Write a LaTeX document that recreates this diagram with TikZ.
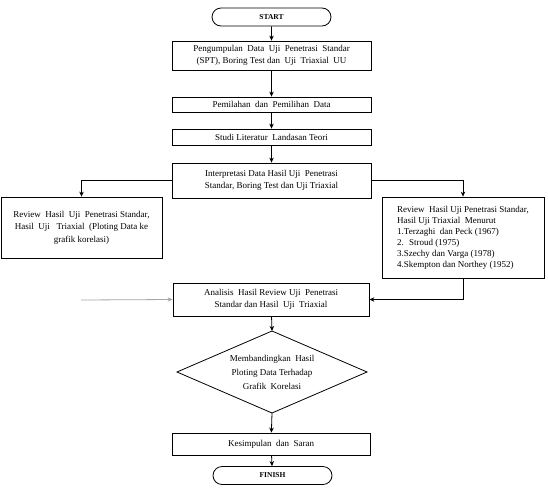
\documentclass[tikz,border=0pt]{standalone}
\usepackage{fontspec}
\setmainfont{Liberation Serif}
\usepackage{tikz}
\usetikzlibrary{calc,positioning,shapes.misc,shapes.geometric,arrows.meta}

\begin{document}
\begin{tikzpicture}[>={Stealth[length=5pt,width=4.5pt]},x=1pt,y=-1pt,
        proses/.style={draw,line width=0.8pt,minimum width=199pt,align=center,
            inner sep=2pt,font=\fontsize{9}{12.5}\selectfont},
        terminal/.style={draw,line width=0.8pt,rounded rectangle,minimum width=121pt,
            minimum height=18pt,inner sep=1pt,font=\fontsize{7.5}{9}\selectfont\bfseries},
        keputusan/.style={minimum width=190pt,minimum height=82pt,inner sep=0pt,
            outer sep=0pt,align=center,font=\fontsize{9}{14}\selectfont},
        panah/.style={->,line width=0.8pt}]
                \useasboundingbox (0,0) rectangle (548,493);
                \node [terminal] (start) at (271.5,17) {START};
                \node [proses,minimum height=29pt] (kumpul) at (271.5,55.5)
                    {Pengumpulan \ Data \ Uji \ Penetrasi \ Standar\\(SPT), Boring Test dan \ Uji \ Triaxial \ UU};
                \node [proses,minimum height=15pt] (pilah) at (271.5,104.5) {Pemilahan \ dan \ Pemilihan \ Data};
                \node [proses,minimum height=16pt] (studi) at (271.5,137) {Studi Literatur \ Landasan Teori};
                \node [proses,minimum height=35pt] (interp) at (271.5,180.5)
                    {Interpretasi Data Hasil Uji \ Penetrasi\\Standar, Boring Test dan Uji Triaxial};
                \node [proses,minimum width=161pt,minimum height=61pt] (revkiri) at (81.5,227.5)
                    {Review \ Hasil \ Uji \ Penetrasi Standar,\\Hasil \ Uji \ \ Triaxial \ (Ploting Data ke\\grafik korelasi)};
                \node [proses,minimum width=162pt,minimum height=81pt,align=left,
                    font=\fontsize{9}{11}\selectfont] (revkanan) at (463,237.5)
                    {Review \ Hasil Uji Penetrasi Standar,\\Hasil Uji Triaxial \ Menurut\\
                     1.Terzaghi \ dan Peck (1967)\\2. \ Stroud (1975)\\3.Szechy dan Varga (1978)\\
                     4.Skempton dan Northey (1952)};
                \node [proses,minimum width=196pt,minimum height=33pt] (analisis) at (271,299.5)
                    {Analisis \ Hasil Review Uji \ Penetrasi\\Standar dan Hasil \ Uji \ Triaxial};
                \node [keputusan] (banding) at (272,372)
                    {Membandingkan \ Hasil\\Ploting Data Terhadap\\Grafik \ Korelasi};
                \draw [line width=0.8pt] (banding.north) -- (banding.east) -- (banding.south)
                    -- (banding.west) -- cycle;
                \node [proses,minimum width=198pt,minimum height=22pt] (simpul) at (271,444)
                    {Kesimpulan \ dan \ Saran};
                \node [terminal] (finish) at (272.5,475.5) {FINISH};
                \coordinate (masuk) at (81,300);
                \draw [panah] (start) -- (kumpul);
                \draw [panah] (kumpul) -- (pilah);
                \draw [panah] (pilah) -- (studi);
                \draw [panah] (studi) -- (interp);
                \draw [panah] (interp.west) -| (revkiri.north);
                \draw [panah] (interp.east) -| (revkanan.north);
                \draw [panah] (revkanan.south) |- (analisis.east);
                \draw [panah,gray!70] (masuk) -- (analisis.west);
                \draw [panah] (analisis) -- (banding.north);
                \draw [panah] (banding.south) -- (simpul);
                \draw [panah] (simpul) -- (finish);
            \end{tikzpicture}
\end{document}
